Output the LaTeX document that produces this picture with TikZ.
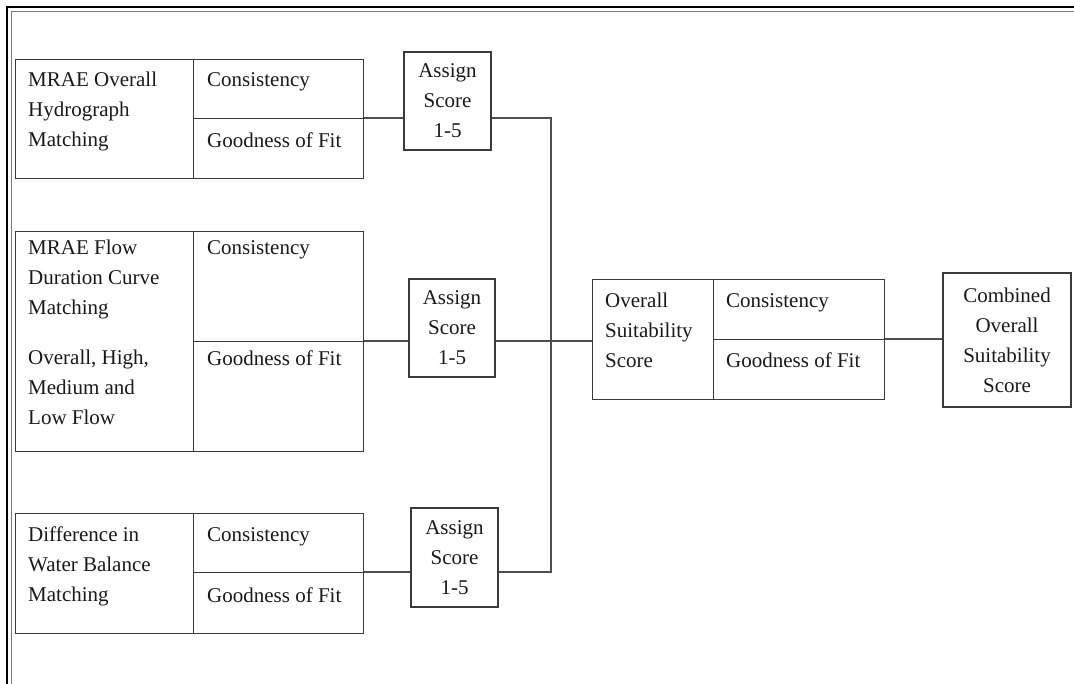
\documentclass[tikz,border=0pt]{standalone}
\usepackage{fontspec}
\setmainfont{LiberationSerif}[Extension=.ttf, UprightFont=*-Regular, BoldFont=*-Bold]
\usetikzlibrary{positioning,calc}
\definecolor{framegray}{HTML}{7A7A7A}
\definecolor{linegray}{HTML}{3A3A3A}
\newcommand{\diagfont}{\fontsize{21}{30}\selectfont}
\tikzset{
  cell/.style={rectangle, draw=linegray, line width=1.1pt, inner sep=0pt, anchor=north west},
  lbl/.style={inner sep=0pt, align=left, font=\diagfont, text=black!90},
  scorebox/.style={rectangle, draw=linegray, line width=1.1pt, inner sep=0pt,
    align=center, font=\diagfont, text=black!90},
  link/.style={draw=linegray!90, line width=1.1pt},
}

\begin{document}
\begin{tikzpicture}[x=1pt, y=-1pt]
\useasboundingbox (0,0) rectangle (1074,684);

% page frame
\draw[line width=2.4pt] (7,684) -- (7,7) -- (1074,7);
\draw[framegray, line width=1.2pt] (11.5,684) -- (11.5,11.5) -- (1074,11.5);

% MRAE overall hydrograph
\node[cell, minimum width=178, minimum height=119] (h1) at (15,59) {};
\node[cell, minimum width=170, minimum height=59] (c1) at (193,59) {};
\node[cell, minimum width=170, minimum height=60] (g1) at (193,118) {};
\node[lbl, below right=13pt and 13pt of h1.north west] (t1) {MRAE Overall\\Hydrograph\\Matching};
\node[lbl, below right=13pt and 14pt of c1.north west] (tc1) {Consistency};
\node[lbl, below right=15pt and 14pt of g1.north west] (tg1) {Goodness of Fit};

% MRAE flow duration curve
\node[cell, minimum width=178, minimum height=220] (h2) at (15,231) {};
\node[cell, minimum width=170, minimum height=110] (c2) at (193,231) {};
\node[cell, minimum width=170, minimum height=110] (g2) at (193,341) {};
\node[lbl, below right=9pt and 13pt of h2.north west] (t2) {MRAE Flow\\Duration Curve\\Matching\\[20pt]Overall, High,\\Medium and\\Low Flow};
\node[lbl, below right=9pt and 14pt of c2.north west] (tc2) {Consistency};
\node[lbl, below right=10pt and 14pt of g2.north west] (tg2) {Goodness of Fit};

% water balance
\node[cell, minimum width=178, minimum height=120] (h3) at (15,513) {};
\node[cell, minimum width=170, minimum height=59] (c3) at (193,513) {};
\node[cell, minimum width=170, minimum height=61] (g3) at (193,572) {};
\node[lbl, below right=14pt and 13pt of h3.north west] (t3) {Difference in\\Water Balance\\Matching};
\node[lbl, below right=14pt and 14pt of c3.north west] (tc3) {Consistency};
\node[lbl, below right=16pt and 14pt of g3.north west] (tg3) {Goodness of Fit};

% scoring
\node[scorebox, minimum width=87, minimum height=98] (a1) at (447.5,101) {Assign\\Score\\1-5};
\node[scorebox, minimum width=86, minimum height=98] (a2) at (452,328) {Assign\\Score\\1-5};
\node[scorebox, minimum width=87, minimum height=99] (a3) at (454.5,557.5) {Assign\\Score\\1-5};

% overall suitability
\node[cell, minimum width=121, minimum height=120] (os) at (592,279) {};
\node[cell, minimum width=171, minimum height=60] (oc) at (713,279) {};
\node[cell, minimum width=171, minimum height=60] (og) at (713,339) {};
\node[lbl, below right=14pt and 13pt of os.north west] (tos) {Overall\\Suitability\\Score};
\node[lbl, below right=14pt and 13pt of oc.north west] (toc) {Consistency};
\node[lbl, below right=14pt and 13pt of og.north west] (tog) {Goodness of Fit};

\node[scorebox, minimum width=128, minimum height=134] (cm) at (1007,340) {Combined\\Overall\\Suitability\\Score};

% connectors
\coordinate (bus) at (551,0);
\draw[link] (g1.north east) -- (g1.north east -| a1.west);
\draw[link] (g1.north east -| a1.east) -- (g1.north east -| bus) -- (g3.north east -| bus) -- (g3.north east -| a3.east);
\draw[link] (g2.north east) -- (g2.north east -| a2.west);
\draw[link] (g2.north east -| a2.east) -- (g2.north east -| os.west);
\draw[link] (g3.north east) -- (g3.north east -| a3.west);
\draw[link] (og.north east) -- (og.north east -| cm.west);

\end{tikzpicture}
\end{document}
